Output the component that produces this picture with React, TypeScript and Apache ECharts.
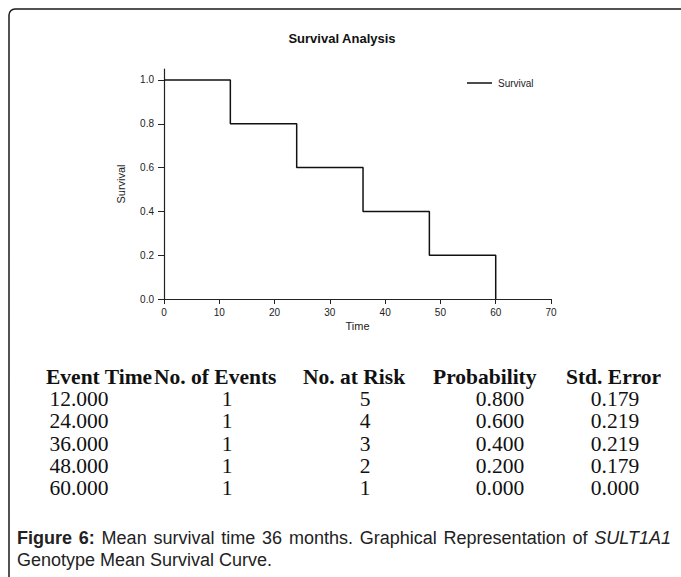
import { useEffect, useRef } from "react";
import * as echarts from "echarts";

// Kaplan-Meier step curve (time, survival)
const stepTimes = [0, 12, 24, 36, 48, 60];
const stepSurvival = [1.0, 0.8, 0.6, 0.4, 0.2, 0.0];
const yTickValues = [0, 0.2, 0.4, 0.6, 0.8, 1.0];

// Life table
const tableHeaders = ["Event Time", "No. of Events", "No. at Risk", "Probability", "Std. Error"];
const eventTimes = [12, 24, 36, 48, 60];
const eventCounts = [1, 1, 1, 1, 1];
const atRisk = [5, 4, 3, 2, 1];
const probabilities = [0.8, 0.6, 0.4, 0.2, 0.0];
const stdErrors = [0.179, 0.219, 0.219, 0.179, 0.0];

// Caption words (style: n normal, b bold, i italic)
const captionLine1 = [
  ["Figure", "b"], ["6:", "b"], ["Mean", "n"], ["survival", "n"], ["time", "n"], ["36", "n"],
  ["months.", "n"], ["Graphical", "n"], ["Representation", "n"], ["of", "n"], ["SULT1A1", "i"],
];
const captionLine2 = "Genotype Mean Survival Curve.";

const SANS = "'Liberation Sans', Arial, sans-serif";
const SERIF = "'Liberation Serif', 'Times New Roman', serif";
const CAP_SIZE = 18;
const TABLE_SIZE = 21.5;

function measure(text: string, font: string): number {
  const c = document.createElement("canvas").getContext("2d");
  if (!c) return text.length * 8;
  c.font = font;
  return c.measureText(text).width;
}

export default function App() {
  const ref = useRef<HTMLDivElement>(null);

  useEffect(() => {
    if (!ref.current) return;
    const chart = echarts.init(ref.current, undefined, { renderer: "svg" });

    const headerX = [46, 154, 303, 433, 566];
    const colCenters = [79, 227, 365, 500, 615];
    const headerY = 377;
    const rowStep = 22.2;

    const graphics: any[] = [
      {
        type: "rect",
        shape: { x: 9, y: 9, width: 720, height: 620, r: 6 },
        style: { fill: "none", stroke: "#1a1a1a", lineWidth: 1.5 },
        z: 0,
      },
    ];

    tableHeaders.forEach((h, i) => {
      graphics.push({
        type: "text",
        x: headerX[i],
        y: headerY,
        style: {
          text: h,
          font: `bold ${TABLE_SIZE}px ${SERIF}`,
          lineHeight: 18,
          fill: "#111",
          align: "left",
          verticalAlign: "middle",
        },
      });
    });

    const columns: string[][] = [
      eventTimes.map((v) => v.toFixed(3)),
      eventCounts.map((v) => String(v)),
      atRisk.map((v) => String(v)),
      probabilities.map((v) => v.toFixed(3)),
      stdErrors.map((v) => v.toFixed(3)),
    ];
    columns.forEach((col, c) => {
      col.forEach((txt, r) => {
        graphics.push({
          type: "text",
          x: colCenters[c],
          y: headerY + rowStep * (r + 1),
          style: {
            text: txt,
            font: `${TABLE_SIZE}px ${SERIF}`,
            lineHeight: 18,
            fill: "#111",
            align: "center",
            verticalAlign: "middle",
          },
        });
      });
    });

    // First caption line spans from x=17 to x=671
    const fontFor = (s: string) =>
      s === "b"
        ? `bold ${CAP_SIZE}px 'Liberation Sans'`
        : s === "i"
        ? `italic ${CAP_SIZE}px 'Liberation Sans'`
        : `${CAP_SIZE}px 'Liberation Sans'`;
    const wordsWidth = captionLine1.reduce((acc, [w, s]) => acc + measure(w, fontFor(s)), 0);
    const gap = Math.min(9, Math.max(4, (671 - 17 - wordsWidth) / (captionLine1.length - 1)));
    const richText = captionLine1
      .map(([w, s], i) => `{${s}|${w}}` + (i < captionLine1.length - 1 ? "{g| }" : ""))
      .join("");

    graphics.push({
      type: "text",
      x: 17,
      y: 538,
      style: {
        text: richText,
        font: `${CAP_SIZE}px ${SANS}`,
        fill: "#222",
        verticalAlign: "middle",
        rich: {
          n: { fontSize: CAP_SIZE, fontFamily: SANS, fill: "#222" },
          b: { fontWeight: "bold", fontSize: CAP_SIZE, fontFamily: SANS, fill: "#222" },
          i: { fontStyle: "italic", fontSize: CAP_SIZE, fontFamily: SANS, fill: "#222" },
          g: { width: gap, fontSize: CAP_SIZE, fontFamily: SANS },
        },
      },
    });
    graphics.push({
      type: "text",
      x: 17,
      y: 560,
      style: {
        text: captionLine2,
        font: `${CAP_SIZE}px ${SANS}`,
        fill: "#222",
        verticalAlign: "middle",
      },
    });

    chart.setOption({
      animation: false,
      backgroundColor: "#ffffff",
      title: {
        text: "Survival Analysis",
        left: 342,
        top: 32,
        textAlign: "center",
        padding: 0,
        textStyle: { fontFamily: SANS, fontSize: 13, fontWeight: "bold", color: "#111" },
      },
      legend: {
        data: ["Survival"],
        left: 467,
        top: 78,
        padding: 0,
        icon: "rect",
        itemWidth: 25,
        itemHeight: 1.5,
        itemGap: 6,
        itemStyle: { color: "#111", borderWidth: 0 },
        textStyle: { fontFamily: SANS, fontSize: 10, color: "#222", padding: [0, 0, 0, 1] },
      },
      grid: { left: 164, right: 130, top: 69, bottom: 278 },
      xAxis: {
        type: "value",
        min: 0,
        max: 70,
        interval: 10,
        name: "Time",
        nameLocation: "middle",
        nameGap: 21,
        nameTextStyle: { fontFamily: SANS, fontSize: 11, color: "#222", verticalAlign: "top" },
        splitLine: { show: false },
        axisLine: { show: true, lineStyle: { color: "#222", width: 1.2 } },
        axisTick: { show: true, length: 5, lineStyle: { color: "#222" } },
        axisLabel: { fontFamily: SANS, fontSize: 10, color: "#222", margin: 8 },
      },
      yAxis: {
        type: "value",
        min: 0,
        max: 1.05,
        name: "Survival",
        nameLocation: "middle",
        nameRotate: 90,
        nameGap: 38,
        nameTextStyle: { fontFamily: SANS, fontSize: 11, color: "#222" },
        splitLine: { show: false },
        axisLine: { show: true, lineStyle: { color: "#222", width: 1.2 } },
        axisTick: { show: true, length: 6, customValues: yTickValues, lineStyle: { color: "#222" } },
        axisLabel: {
          fontFamily: SANS,
          fontSize: 10,
          color: "#222",
          margin: 10,
          customValues: yTickValues,
          formatter: (v: number) => v.toFixed(1),
        },
      },
      series: [
        {
          name: "Survival",
          type: "line",
          step: "end",
          symbol: "none",
          lineStyle: { color: "#111", width: 1.5 },
          itemStyle: { color: "#111" },
          data: stepTimes.map((t, i) => [t, stepSurvival[i]]),
        },
      ],
      graphic: graphics,
    });

    return () => chart.dispose();
  }, []);

  return (
    <div
      ref={ref}
      style={{ position: "absolute", left: 0, top: 0, width: 681, height: 577, background: "#fff" }}
    />
  );
}
